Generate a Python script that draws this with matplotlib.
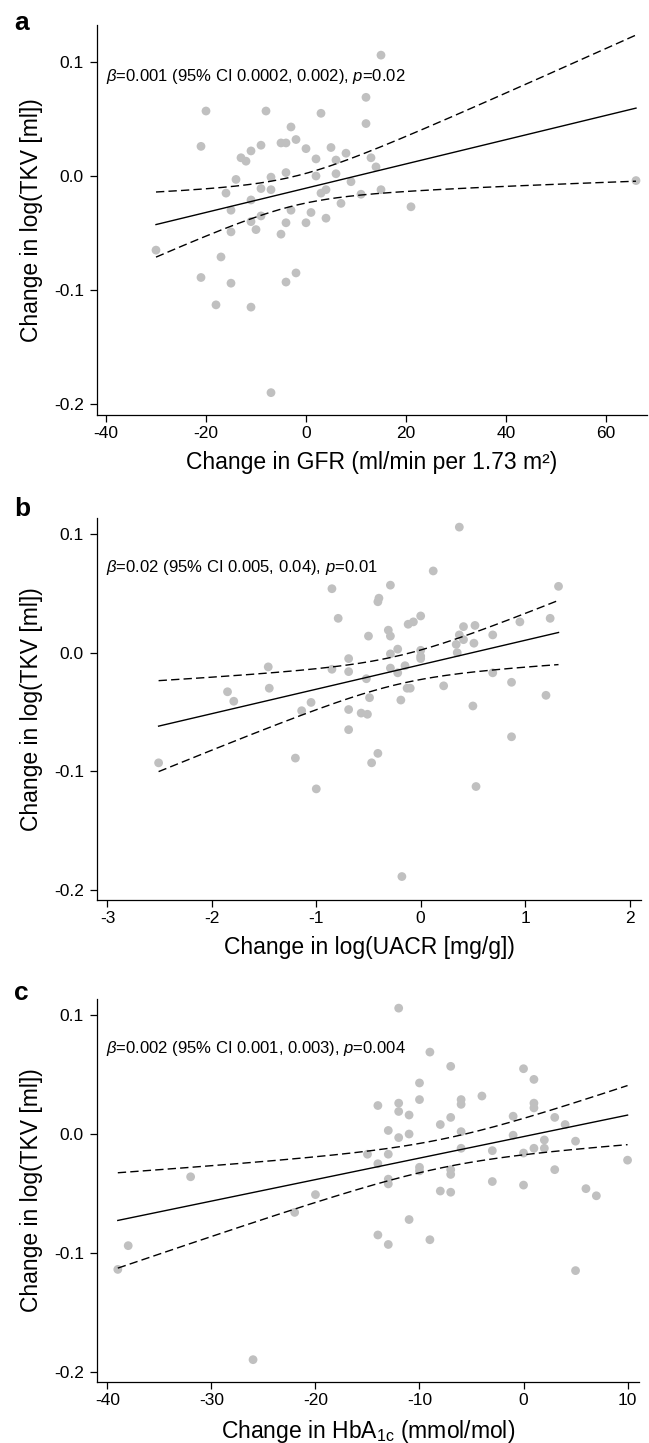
"""
Change in TKV vs change in GFR, UACR and HbA1c: three stacked scatter
panels with OLS fit and 95% confidence band.
"""
import matplotlib
matplotlib.use("Agg")
import matplotlib.pyplot as plt
import numpy as np

plt.rcParams["font.family"] = ["Liberation Sans", "DejaVu Sans"]
plt.rcParams["mathtext.fontset"] = "custom"
plt.rcParams["mathtext.rm"] = "Liberation Sans"
plt.rcParams["mathtext.it"] = "Liberation Sans:italic"
plt.rcParams["axes.unicode_minus"] = False

# panel a: change in GFR vs change in log(TKV)
GFR_X = [15, -20, -8, 3, 12, 12, -3, -21, -9, -11, -5, -4, -2, 0, 5, -13, -12, 2, 6, 8,
         13, 14, -14, -7, -4, 2, 6, 9, 66, -16, -9, -7, 3, 4, 11, 15, -11, 7, 21, -15,
         -3, -9, 1, -11, -4, 0, 4, -15, -10, -5, -30, -17, -21, -15, -2, -4, -18, -11, -7]
GFR_Y = [0.106, 0.057, 0.057, 0.055, 0.069, 0.046, 0.043, 0.026, 0.027, 0.022, 0.029, 0.029,
         0.032, 0.024, 0.025, 0.016, 0.013, 0.015, 0.014, 0.020, 0.016, 0.008, -0.003, -0.001,
         0.003, 0.000, 0.002, -0.005, -0.004, -0.015, -0.011, -0.012, -0.015, -0.012, -0.016,
         -0.012, -0.021, -0.024, -0.027, -0.030, -0.030, -0.035, -0.032, -0.040, -0.041, -0.041,
         -0.037, -0.049, -0.047, -0.051, -0.065, -0.071, -0.089, -0.094, -0.085, -0.093, -0.113,
         -0.115, -0.190]

# panel b: change in log(UACR) vs change in log(TKV)
UACR_X = [0.37, 0.12, -0.85, -0.29, 1.32, -0.40, -0.41, -0.79, 0.00, -0.07, -0.12, 1.24, 0.95,
          0.41, 0.52, -0.31, -0.29, -0.50, 0.37, 0.41, 0.69, 0.34, 0.51, -0.22, -0.29, 0.00,
          0.00, 0.00, 0.35, -1.46, -0.85, -0.69, -0.69, -0.29, -0.15, -0.22, 0.69, -0.52, 0.87,
          0.22, -0.13, -0.10, -1.85, -1.45, -1.79, -0.49, -0.19, 1.20, 0.50, -1.05, -1.14, -0.69,
          -0.57, -0.51, -0.69, 0.87, -1.20, -0.41, -0.47, -2.51, -1.00, 0.53, -0.18]
UACR_Y = [0.106, 0.069, 0.054, 0.057, 0.056, 0.046, 0.043, 0.029, 0.031, 0.026, 0.024, 0.029,
          0.026, 0.022, 0.023, 0.019, 0.014, 0.014, 0.015, 0.011, 0.015, 0.007, 0.008, 0.003,
          -0.001, 0.002, -0.003, -0.005, 0.000, -0.012, -0.014, -0.005, -0.016, -0.013, -0.011,
          -0.017, -0.017, -0.022, -0.025, -0.028, -0.030, -0.030, -0.033, -0.030, -0.041, -0.038,
          -0.040, -0.036, -0.045, -0.042, -0.049, -0.048, -0.051, -0.052, -0.065, -0.071, -0.089,
          -0.085, -0.093, -0.093, -0.115, -0.113, -0.189]

# panel c: change in HbA1c vs change in log(TKV)
HBA_X = [-12, -9, -7, 0, 1, -10, -4, -14, -12, -12, -11, -10, -6, -6, 1, 1, -7, -1, 3, -8,
         4, -13, -12, -11, -6, -1, 2, 5, -6, -3, 0, 1, 2, -15, -13, -14, -10, -10, -7, -7,
         3, -32, -13, -13, -3, 0, -8, -7, 6, 7, 10, -20, -22, -11, -14, -13, -9, -38, -39, 5, -26]
HBA_Y = [0.106, 0.069, 0.057, 0.055, 0.046, 0.043, 0.032, 0.024, 0.026, 0.019, 0.016, 0.029,
         0.029, 0.025, 0.026, 0.022, 0.014, 0.015, 0.014, 0.008, 0.008, 0.003, -0.003, 0.000,
         0.002, -0.001, -0.005, -0.006, -0.012, -0.014, -0.016, -0.012, -0.012, -0.017, -0.017,
         -0.025, -0.028, -0.031, -0.030, -0.034, -0.030, -0.036, -0.038, -0.042, -0.040, -0.043,
         -0.048, -0.049, -0.046, -0.052, -0.022, -0.051, -0.066, -0.072, -0.085, -0.093, -0.089,
         -0.094, -0.114, -0.115, -0.190]

STATS = [
    r"$\mathit{β}$=0.001 (95% CI 0.0002, 0.002), $\mathit{p}$=0.02",
    r"$\mathit{β}$=0.02 (95% CI 0.005, 0.04), $\mathit{p}$=0.01",
    r"$\mathit{β}$=0.002 (95% CI 0.001, 0.003), $\mathit{p}$=0.004",
]
XLABELS = [
    "Change in GFR (ml/min per 1.73 m²)",
    "Change in log(UACR [mg/g])",
    r"Change in HbA$_{\mathregular{1c}}$ (mmol/mol)",
]
YLABEL = "Change in log(TKV [ml])"
T975 = 2.0


def panel(ax, x, y, stat, xlabel, xlim, xticks):
    x = np.asarray(x, float)
    y = np.asarray(y, float)
    ax.scatter(x, y, s=40, color="#c0c0c0", edgecolors="none", zorder=2)

    # OLS fit with 95% CI of the mean
    b, a = np.polyfit(x, y, 1)
    n = len(x)
    resid = y - (a + b * x)
    s = np.sqrt(np.sum(resid ** 2) / (n - 2))
    xm = x.mean()
    sxx = np.sum((x - xm) ** 2)
    xs = np.linspace(x.min(), x.max(), 200)
    fit = a + b * xs
    se = s * np.sqrt(1 / n + (xs - xm) ** 2 / sxx)
    ax.plot(xs, fit, color="black", lw=1.0, zorder=3)
    ax.plot(xs, fit + T975 * se, color="black", lw=1.0, dashes=(6, 3), zorder=3)
    ax.plot(xs, fit - T975 * se, color="black", lw=1.0, dashes=(6, 3), zorder=3)

    ax.set_xlim(*xlim)
    ax.set_ylim(-0.2088, 0.1137)
    ax.set_xticks(xticks)
    ax.set_yticks([-0.2, -0.1, 0.0, 0.1])
    ax.set_yticklabels(["-0.2", "-0.1", "0.0", "0.1"])
    ax.set_xticklabels([str(t) for t in xticks])
    for side in ("top", "right"):
        ax.spines[side].set_visible(False)
    for side in ("left", "bottom"):
        ax.spines[side].set_linewidth(0.9)
    ax.tick_params(axis="both", direction="out", length=5, width=0.9, labelsize=12.5)
    ax.tick_params(axis="y", pad=4.5)
    ax.tick_params(axis="x", pad=3)
    ax.set_xlabel(xlabel, fontsize=16.5, labelpad=7)
    ax.set_ylabel(YLABEL, fontsize=16.5, labelpad=8)
    ax.text(0.016, 0.87, stat, transform=ax.transAxes, fontsize=12, va="center", ha="left")


def main():
    fig = plt.figure(figsize=(6.49, 14.43), dpi=100)
    H = 1443.0
    W = 649.0
    rects = [(97, 25.5, 647, 415), (97, 518, 641, 900), (97, 999, 639, 1382)]
    axes = [fig.add_axes([l / W, 1 - b / H, (r - l) / W, (b - t) / H]) for l, t, r, b in rects]

    panel(axes[0], GFR_X, GFR_Y, STATS[0], XLABELS[0], (-41.8, 68.2), [-40, -20, 0, 20, 40, 60])
    panel(axes[1], UACR_X, UACR_Y, STATS[1], XLABELS[1], (-3.1, 2.11), [-3, -2, -1, 0, 1, 2])
    panel(axes[2], HBA_X, HBA_Y, STATS[2], XLABELS[2], (-41.0, 11.1), [-40, -30, -20, -10, 0, 10])
    axes[0].set_ylim(-0.2096, 0.132)

    for letter, base in zip("abc", (30, 516, 1000)):
        fig.text(14 / W, 1 - base / H, letter, fontsize=19, fontweight="bold",
                 ha="left", va="baseline")

    fig.savefig("out.png", dpi=100)
    plt.close(fig)


if __name__ == "__main__":
    main()
